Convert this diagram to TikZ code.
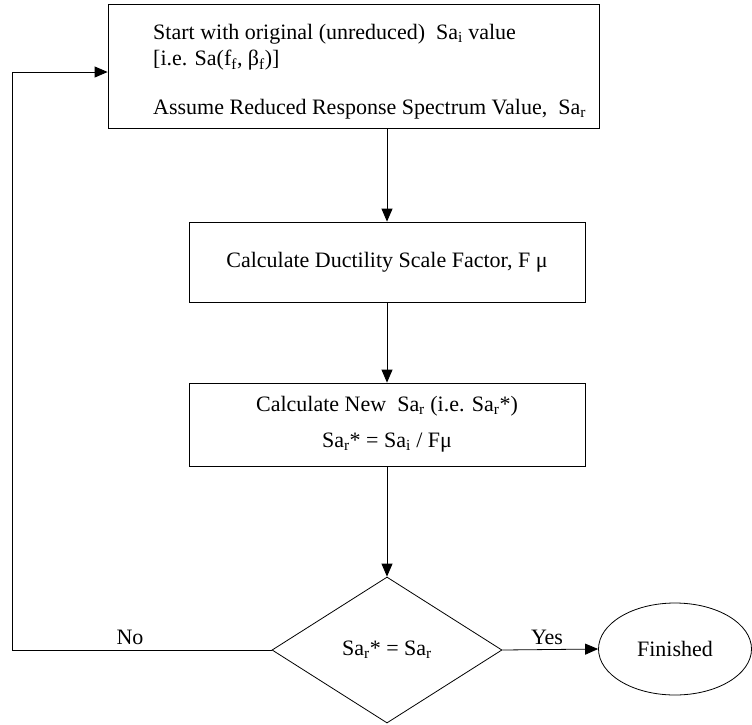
\documentclass[tikz,border=0pt]{standalone}
\usepackage{fontspec}
\setmainfont{Liberation Serif}
\usetikzlibrary{shapes.geometric,arrows.meta,calc}
\tikzset{
  basefont/.style={font=\fontsize{22}{26}\selectfont},
  procbox/.style={draw, line width=0.8pt, rectangle, basefont, inner sep=0pt},
  decbox/.style={draw, line width=0.8pt, diamond, basefont, inner sep=0pt},
  endbox/.style={draw, line width=0.8pt, ellipse, basefont, inner sep=0pt},
  lbl/.style={basefont, inner sep=0pt},
  arr/.style={line width=0.8pt, -{Triangle[length=13pt,width=11pt]}}
}
\newcommand{\sbs}[1]{\textsubscript{#1}}
\begin{document}
\begin{tikzpicture}[x=1pt,y=-1pt]
\useasboundingbox (0,0) rectangle (752,724);
\node[procbox, minimum width=491pt, minimum height=124pt] (start) at (353.5,66) {};
\node[lbl, anchor=north west, align=left] (starttxt) at (153,24)
  {Start with original (unreduced)\ \ Sa\sbs{i} value\\
   {[}i.e. Sa(f\sbs{f}, β\sbs{f})]\\[23pt]
   Assume Reduced Response Spectrum Value,\ \ Sa\sbs{r}};
\node[procbox, minimum width=396pt, minimum height=80pt] (fac) at (387,262)
  {Calculate Ductility Scale Factor, F μ};
\node[procbox, minimum width=396pt, minimum height=83pt, align=center] (new) at (387,424.5)
  {Calculate New\ \ Sa\sbs{r} (i.e. Sa\sbs{r}*)\\[10pt]
   Sa\sbs{r}* = Sa\sbs{i} / Fμ};
\node[decbox, minimum width=230pt, minimum height=146pt] (dec) at (387,650)
  {Sa\sbs{r}* = Sa\sbs{r}};
\node[endbox, minimum width=153pt, minimum height=92pt] (fin) at (675,649)
  {Finished};
\coordinate (ret) at (12,650);
\draw[arr] (start.south -| fac.north) -- (fac.north);
\draw[arr] (fac.south) -- (new.north);
\draw[arr] (new.south) -- (dec.north);
\draw[arr] (dec.east) -- (fin.west);
\draw[arr] (dec.west) -- (ret) |- ($(start.west)+(0,6)$);
\node[lbl] (no) at (130,637) {No};
\node[lbl] (yes) at (547,637) {Yes};
\end{tikzpicture}
\end{document}
